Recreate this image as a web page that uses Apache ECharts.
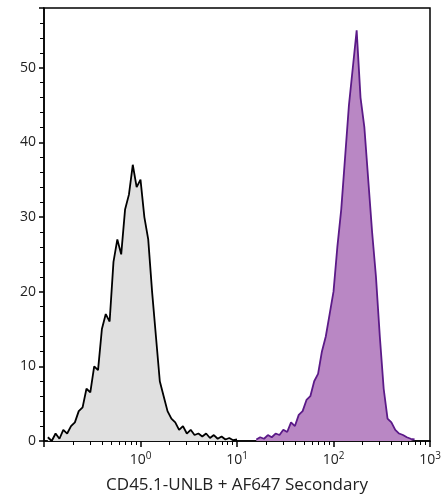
<!DOCTYPE html>
<html>
<head>
<meta charset="utf-8">
<script src="https://cdn.jsdelivr.net/npm/echarts@6/dist/echarts.min.js"></script>
<style>html,body{margin:0;padding:0;background:#fff}#main{width:444px;height:500px}</style>
</head>
<body>
<div id="main"></div>
<script>
// control (unstained) histogram, x in log10 units
const ctrlLogX = [-0.96,-0.92,-0.88,-0.84,-0.80,-0.76,-0.72,-0.68,-0.64,-0.60,-0.56,-0.52,-0.48,-0.44,-0.40,-0.36,-0.32,-0.28,-0.24,-0.20,-0.16,-0.12,-0.08,-0.04,0.00,0.04,0.08,0.12,0.16,0.20,0.24,0.28,0.32,0.36,0.40,0.44,0.48,0.52,0.56,0.60,0.64,0.68,0.72,0.76,0.80,0.84,0.88,0.92,0.96,1.00];
const ctrlCount = [0.5,0,1,0.3,1.5,1,2,2.5,4,4.5,7,6.5,10,9.5,15,17,16,24,27,25,31,33,37,34,35,30,27,20,14,8,6,4,3,2.5,1.5,2,1,1.5,0.8,1,0.6,1,0.4,0.8,0.3,0.6,0.2,0.4,0.1,0.2];
// stained sample histogram
const stainLogX = [1.20,1.24,1.28,1.32,1.36,1.40,1.44,1.48,1.52,1.56,1.60,1.64,1.68,1.72,1.76,1.80,1.84,1.88,1.92,1.96,2.00,2.04,2.08,2.12,2.16,2.20,2.24,2.28,2.32,2.36,2.40,2.44,2.48,2.52,2.56,2.60,2.64,2.68,2.72,2.76,2.80,2.84];
const stainCount = [0.2,0.5,0.3,0.8,0.5,1,0.8,1.5,1.2,2.5,2,3.5,4,5.5,6,8,9,12,14,17,20,26,31,38,45,50,55,46,42,35,28,22,14,7,3,2.5,1.5,1,0.8,0.5,0.3,0.2];
const xTickExp = [0, 1, 2, 3];

const toPts = (lx, ys) => lx.map((v, i) => [Math.pow(10, v), ys[i]]);

const chart = echarts.init(document.getElementById('main'));
chart.setOption({
  animation: false,
  grid: { left: 44, right: 14, top: 8, bottom: 59, show: true, borderColor: '#000', borderWidth: 1.5 },
  xAxis: {
    type: 'log', min: 0.1, max: 1000, logBase: 10,
    name: 'CD45.1-UNLB + AF647 Secondary', nameLocation: 'middle', nameGap: 36,
    nameTextStyle: { fontFamily: 'Open Sans', fontSize: 17, color: '#222' },
    axisLine: { lineStyle: { color: '#000', width: 1.5 } },
    axisTick: { length: 6, lineStyle: { color: '#000', width: 1.5 } },
    minorTick: { show: true, splitNumber: 9, length: 4, lineStyle: { color: '#000' } },
    splitLine: { show: false },
    axisLabel: {
      margin: 10,
      formatter: v => {
        const e = Math.round(Math.log10(v));
        return xTickExp.indexOf(e) < 0 ? '' : '{b|10}{s|' + e + '}';
      },
      rich: {
        b: { fontFamily: 'Open Sans', fontSize: 14, color: '#222' },
        s: { fontFamily: 'Open Sans', fontSize: 10, color: '#222', verticalAlign: 'top', padding: [0, 0, 8, 0] }
      }
    }
  },
  yAxis: {
    type: 'value', min: 0, max: 58, interval: 10,
    axisLine: { show: true, lineStyle: { color: '#000', width: 1.5 } },
    axisTick: { show: true, length: 5, lineStyle: { color: '#000', width: 1.5 } },
    minorTick: { show: true, splitNumber: 5, length: 4, lineStyle: { color: '#000' } },
    splitLine: { show: false },
    axisLabel: { fontFamily: 'Open Sans', fontSize: 14, color: '#222', margin: 8, showMaxLabel: false }
  },
  series: [
    {
      type: 'line', data: toPts(ctrlLogX, ctrlCount), symbol: 'none',
      lineStyle: { color: '#000', width: 1.8 }, areaStyle: { color: '#e0e0e0', opacity: 1 }
    },
    {
      type: 'line', data: toPts(stainLogX, stainCount), symbol: 'none',
      lineStyle: { color: '#5b1a88', width: 1.8 }, areaStyle: { color: '#b987c4', opacity: 1 }
    }
  ]
});
</script>
</body>
</html>
